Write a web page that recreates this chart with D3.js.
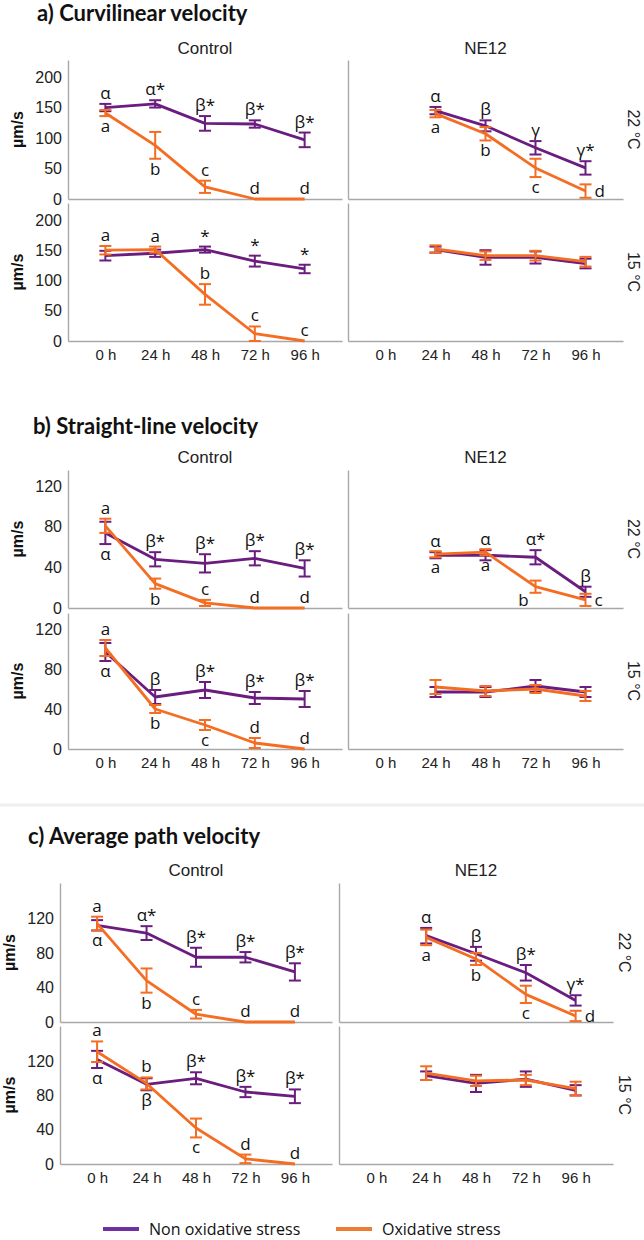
<!DOCTYPE html>
<html><head><meta charset="utf-8">
<script src="https://cdn.jsdelivr.net/npm/d3@7"></script>
<style>body{margin:0;background:#fff}svg{display:block}</style>
</head><body>
<svg id="chart" width="644" height="1240"></svg>
<script>
// ---------- categories / ticks ----------
const times = ["0 h", "24 h", "48 h", "72 h", "96 h"];
const ne12Times = ["24 h", "48 h", "72 h", "96 h"];
const facets = ["Control", "NE12"];
const temps = ["22 °C", "15 °C"];
const seriesNames = ["Non oxidative stress", "Oxidative stress"];
const vclTicks = [0, 50, 100, 150, 200];
const vslTicks = [0, 40, 80, 120];
const vapTicks = [0, 40, 80, 120];

// ---------- a) Curvilinear velocity (VCL) ----------
const vclCtrl22Non = [150, 156, 124, 123, 97];
const vclCtrl22NonSE = [6, 6, 12, 6, 12];
const vclCtrl22Ox = [141, 88, 20, 0, 0];
const vclCtrl22OxSE = [5, 22, 10, 0, 0];
const vclCtrl22NonLab = ["α", "α*", "β*", "β*", "β*"];
const vclCtrl22NonPos = ["t", "t", "t", "t", "t"];
const vclCtrl22OxLab = ["a", "b", "c", "d", "d"];
const vclCtrl22OxPos = ["b", "b", "t", "t", "t"];

const vclNE22Non = [145, 120, 84, 51];
const vclNE22NonSE = [6, 9, 11, 11];
const vclNE22Ox = [140, 107, 51, 13];
const vclNE22OxSE = [6, 11, 15, 11];
const vclNE22NonLab = ["α", "β", "γ", "γ*"];
const vclNE22NonPos = ["t", "t", "t", "t"];
const vclNE22OxLab = ["a", "b", "c", "d"];
const vclNE22OxPos = ["b", "b", "b", "r"];

const vclCtrl15Non = [141, 145, 151, 132, 119];
const vclCtrl15NonSE = [8, 6, 5, 9, 7];
const vclCtrl15Ox = [150, 151, 77, 12, 0];
const vclCtrl15OxSE = [7, 5, 17, 12, 0];
const vclCtrl15NonLab = ["", "", "*", "*", "*"];
const vclCtrl15NonPos = ["t", "t", "t", "t", "t"];
const vclCtrl15OxLab = ["a", "a", "b", "c", "c"];
const vclCtrl15OxPos = ["t", "t", "t", "t", "t"];

const vclNE15Non = [151, 138, 138, 128];
const vclNE15NonSE = [5, 12, 10, 8];
const vclNE15Ox = [152, 141, 141, 131];
const vclNE15OxSE = [6, 7, 8, 8];

// ---------- b) Straight-line velocity (VSL) ----------
const vslCtrl22Non = [74, 48, 44, 49, 39];
const vslCtrl22NonSE = [11, 7, 9, 7, 8];
const vslCtrl22Ox = [81, 24, 5, 0, 0];
const vslCtrl22OxSE = [7, 5, 3, 0, 0];
const vslCtrl22NonLab = ["α", "β*", "β*", "β*", "β*"];
const vslCtrl22NonPos = ["b", "t", "t", "t", "t"];
const vslCtrl22OxLab = ["a", "b", "c", "d", "d"];
const vslCtrl22OxPos = ["t", "b", "t", "t", "t"];

const vslNE22Non = [52, 52, 50, 16];
const vslNE22NonSE = [3, 5, 7, 5];
const vslNE22Ox = [53, 55, 21, 8];
const vslNE22OxSE = [3, 3, 6, 6];
const vslNE22NonLab = ["α", "α", "α*", "β"];
const vslNE22NonPos = ["t", "t", "t", "t"];
const vslNE22OxLab = ["a", "a", "b", "c"];
const vslNE22OxPos = ["b", "b", "bl", "r"];

const vslCtrl15Non = [97, 52, 59, 51, 50];
const vslCtrl15NonSE = [9, 7, 8, 6, 8];
const vslCtrl15Ox = [101, 40, 24, 6, 0];
const vslCtrl15OxSE = [8, 4, 5, 5, 0];
const vslCtrl15NonLab = ["α", "β", "β*", "β*", "β*"];
const vslCtrl15NonPos = ["b", "t", "t", "t", "t"];
const vslCtrl15OxLab = ["a", "b", "c", "d", "d"];
const vslCtrl15OxPos = ["t", "b", "b", "t", "t"];

const vslNE15Non = [57, 57, 63, 57];
const vslNE15NonSE = [5, 5, 6, 5];
const vslNE15Ox = [62, 58, 60, 53];
const vslNE15OxSE = [7, 5, 4, 5];

// ---------- c) Average path velocity (VAP) ----------
const vapCtrl22Non = [112, 103, 75, 75, 58];
const vapCtrl22NonSE = [6, 8, 11, 6, 10];
const vapCtrl22Ox = [114, 48, 9, 0, 0];
const vapCtrl22OxSE = [8, 14, 5, 0, 0];
const vapCtrl22NonLab = ["α", "α*", "β*", "β*", "β*"];
const vapCtrl22NonPos = ["b", "t", "t", "t", "t"];
const vapCtrl22OxLab = ["a", "b", "c", "d", "d"];
const vapCtrl22OxPos = ["t", "b", "t", "t", "t"];

const vapNE22Non = [100, 79, 57, 25];
const vapNE22NonSE = [9, 8, 9, 6];
const vapNE22Ox = [98, 73, 32, 7];
const vapNE22OxSE = [9, 7, 10, 6];
const vapNE22NonLab = ["α", "β", "β*", "γ*"];
const vapNE22NonPos = ["t", "t", "t", "t"];
const vapNE22OxLab = ["a", "b", "c", "d"];
const vapNE22OxPos = ["b", "b", "b", "r"];

const vapCtrl15Non = [122, 93, 100, 84, 79];
const vapCtrl15NonSE = [10, 7, 7, 6, 8];
const vapCtrl15Ox = [131, 94, 42, 6, 0];
const vapCtrl15OxSE = [12, 7, 11, 5, 0];
const vapCtrl15NonLab = ["α", "β", "β*", "β*", "β*"];
const vapCtrl15NonPos = ["b", "b", "t", "t", "t"];
const vapCtrl15OxLab = ["a", "b", "c", "d", "d"];
const vapCtrl15OxPos = ["t", "t", "b", "t", "t"];

const vapNE15Non = [103, 94, 99, 86];
const vapNE15NonSE = [5, 10, 9, 6];
const vapNE15Ox = [106, 97, 98, 88];
const vapNE15OxSE = [8, 6, 6, 8];

// ---------- styling / layout ----------
const PURPLE = "#6b1d7f", ORANGE = "#f46d22";
const LEG_PURPLE = "#7030a0", LEG_ORANGE = "#ed7d31";
const AXIS = "#a8a8a8";
const SANS = "'Liberation Sans', Arial, sans-serif";
const HUM = "'Open Sans', sans-serif";

function panel(row, col, non, nonSE, ox, oxSE, nonLab, nonPos, oxLab, oxPos) {
  return {row, col, non, nonSE, ox, oxSE, nonLab, nonPos, oxLab, oxPos};
}

const sections = [
  { title: "a) Curvilinear velocity", ticks: vclTicks, yMax: 228,
    L: {titleX: 37, titleY: 21, headerY: 54, rows: [[60, 199], [203, 341]], cols: [[68, 342], [348, 623]], yLabX: 17, tempX: 634},
    panels: [
      panel(0, 0, vclCtrl22Non, vclCtrl22NonSE, vclCtrl22Ox, vclCtrl22OxSE, vclCtrl22NonLab, vclCtrl22NonPos, vclCtrl22OxLab, vclCtrl22OxPos),
      panel(0, 1, vclNE22Non, vclNE22NonSE, vclNE22Ox, vclNE22OxSE, vclNE22NonLab, vclNE22NonPos, vclNE22OxLab, vclNE22OxPos),
      panel(1, 0, vclCtrl15Non, vclCtrl15NonSE, vclCtrl15Ox, vclCtrl15OxSE, vclCtrl15NonLab, vclCtrl15NonPos, vclCtrl15OxLab, vclCtrl15OxPos),
      panel(1, 1, vclNE15Non, vclNE15NonSE, vclNE15Ox, vclNE15OxSE)
    ]},
  { title: "b) Straight-line velocity", ticks: vslTicks, yMax: 136,
    L: {titleX: 33, titleY: 434, headerY: 463, rows: [[470, 608], [613, 749]], cols: [[68, 342], [348, 623]], yLabX: 17, tempX: 634},
    panels: [
      panel(0, 0, vslCtrl22Non, vslCtrl22NonSE, vslCtrl22Ox, vslCtrl22OxSE, vslCtrl22NonLab, vslCtrl22NonPos, vslCtrl22OxLab, vslCtrl22OxPos),
      panel(0, 1, vslNE22Non, vslNE22NonSE, vslNE22Ox, vslNE22OxSE, vslNE22NonLab, vslNE22NonPos, vslNE22OxLab, vslNE22OxPos),
      panel(1, 0, vslCtrl15Non, vslCtrl15NonSE, vslCtrl15Ox, vslCtrl15OxSE, vslCtrl15NonLab, vslCtrl15NonPos, vslCtrl15OxLab, vslCtrl15OxPos),
      panel(1, 1, vslNE15Non, vslNE15NonSE, vslNE15Ox, vslNE15OxSE)
    ]},
  { title: "c) Average path velocity", ticks: vapTicks, yMax: 161,
    L: {titleX: 28, titleY: 844, headerY: 876, rows: [[883, 1022], [1026, 1164]], cols: [[60, 332], [339, 613]], yLabX: 9, tempX: 625},
    panels: [
      panel(0, 0, vapCtrl22Non, vapCtrl22NonSE, vapCtrl22Ox, vapCtrl22OxSE, vapCtrl22NonLab, vapCtrl22NonPos, vapCtrl22OxLab, vapCtrl22OxPos),
      panel(0, 1, vapNE22Non, vapNE22NonSE, vapNE22Ox, vapNE22OxSE, vapNE22NonLab, vapNE22NonPos, vapNE22OxLab, vapNE22OxPos),
      panel(1, 0, vapCtrl15Non, vapCtrl15NonSE, vapCtrl15Ox, vapCtrl15OxSE, vapCtrl15NonLab, vapCtrl15NonPos, vapCtrl15OxLab, vapCtrl15OxPos),
      panel(1, 1, vapNE15Non, vapNE15NonSE, vapNE15Ox, vapNE15OxSE)
    ]}
];

const svg = d3.select("#chart");
svg.append("rect").attr("width", 644).attr("height", 1240).attr("fill", "#fff");

// light separator above section c
svg.append("line").attr("x1", 0).attr("x2", 644).attr("y1", 805).attr("y2", 805)
  .attr("stroke", "#eeeeee").attr("stroke-width", 3);

sections.forEach(sec => {
  const L = sec.L;
  svg.append("text").attr("x", L.titleX).attr("y", L.titleY).text(sec.title)
    .attr("font-family", "Lato, sans-serif").attr("font-weight", 700).attr("font-size", 22).attr("fill", "#111");

  facets.forEach((f, ci) => {
    const [x0, x1] = L.cols[ci];
    svg.append("text").attr("x", (x0 + x1) / 2).attr("y", L.headerY).attr("text-anchor", "middle")
      .attr("font-family", SANS).attr("font-size", 17).attr("fill", "#222").text(f);
  });

  temps.forEach((t, ri) => {
    const [y0, y1] = L.rows[ri];
    const cy = (y0 + y1) / 2;
    svg.append("text").attr("transform", `translate(${L.tempX},${cy}) rotate(90)`)
      .attr("text-anchor", "middle").attr("dy", "0.35em")
      .attr("font-family", SANS).attr("font-size", 16).attr("fill", "#222").text(t);
    svg.append("text").attr("transform", `translate(${L.yLabX},${cy}) rotate(-90)`)
      .attr("text-anchor", "middle").attr("dy", "0.35em")
      .attr("font-family", SANS).attr("font-weight", 700).attr("font-size", 16).attr("fill", "#111").text("µm/s");
  });

  sec.panels.forEach(p => {
    const [x0, x1] = L.cols[p.col];
    const [y0, y1] = L.rows[p.row];
    const x = d3.scalePoint().domain(times).range([x0, x1]).padding(0.75);
    const y = d3.scaleLinear().domain([0, sec.yMax]).range([y1, y0]);

    const ya = d3.axisLeft(y).tickSizeInner(0).tickSizeOuter(0).tickPadding(6)
      .tickValues(p.col === 0 ? sec.ticks : []);
    const gy = svg.append("g").attr("transform", `translate(${x0},0)`).call(ya);
    const xa = d3.axisBottom(x).tickSizeInner(0).tickSizeOuter(0).tickPadding(8);
    if (p.row === 0) xa.tickFormat(() => "");
    const gx = svg.append("g").attr("transform", `translate(0,${y1})`).call(xa);
    [gy, gx].forEach(g => {
      g.select(".domain").attr("stroke", AXIS).attr("stroke-width", 1.4);
      g.selectAll("text").attr("font-family", SANS).attr("fill", "#222");
    });
    gy.selectAll("text").attr("font-size", 16);
    gx.selectAll("text").attr("font-size", 15);

    const ts = p.col === 0 ? times : ne12Times;
    const series = [
      {vals: p.non, se: p.nonSE, lab: p.nonLab, pos: p.nonPos, color: PURPLE},
      {vals: p.ox, se: p.oxSE, lab: p.oxLab, pos: p.oxPos, color: ORANGE}
    ];
    series.forEach(s => {
      const pts = s.vals.map((v, i) => ({t: ts[i], v, e: s.se[i]}));
      const g = svg.append("g");
      g.append("path").datum(pts)
        .attr("d", d3.line().x(d => x(d.t)).y(d => y(d.v)))
        .attr("fill", "none").attr("stroke", s.color).attr("stroke-width", 2.8)
        .attr("stroke-linejoin", "round");
      const eb = g.selectAll(".eb").data(pts.filter(d => d.e > 0)).join("g")
        .attr("stroke", s.color).attr("stroke-width", 2);
      eb.append("line").attr("x1", d => x(d.t)).attr("x2", d => x(d.t))
        .attr("y1", d => y(d.v - d.e)).attr("y2", d => y(d.v + d.e));
      eb.append("line").attr("x1", d => x(d.t) - 6).attr("x2", d => x(d.t) + 6)
        .attr("y1", d => y(d.v + d.e)).attr("y2", d => y(d.v + d.e));
      eb.append("line").attr("x1", d => x(d.t) - 6).attr("x2", d => x(d.t) + 6)
        .attr("y1", d => y(d.v - d.e)).attr("y2", d => y(d.v - d.e));
    });
    series.forEach(s => {
      if (!s.lab) return;
      s.lab.forEach((lab, i) => {
        if (!lab) return;
        const v = s.vals[i], e = s.se[i], t = ts[i], pos = s.pos[i];
        let tx = x(t), ty, anchor = "middle";
        if (pos === "t") ty = y(v + e) - 5;
        else if (pos === "b") ty = y(v - e) + 16;
        else if (pos === "bl") { tx = x(t) - 12; ty = y(v - e) + 13; }
        else { tx = x(t) + 9; ty = y(v) + 6; anchor = "start"; }
        svg.append("text").attr("x", tx).attr("y", ty).attr("text-anchor", anchor)
          .attr("font-family", HUM).attr("font-size", 17).attr("fill", "#111").text(lab);
      });
    });
  });
});

// legend
const legend = svg.append("g").attr("transform", "translate(0,1229)");
const legItems = [
  {name: seriesNames[0], color: LEG_PURPLE, x: 103},
  {name: seriesNames[1], color: LEG_ORANGE, x: 336}
];
legItems.forEach(it => {
  legend.append("line").attr("x1", it.x).attr("x2", it.x + 36).attr("y1", 0).attr("y2", 0)
    .attr("stroke", it.color).attr("stroke-width", 4);
  legend.append("text").attr("x", it.x + 46).attr("y", 0).attr("dy", "0.35em")
    .attr("font-family", HUM).attr("font-size", 16).attr("fill", "#111").text(it.name);
});
</script>
</body></html>
